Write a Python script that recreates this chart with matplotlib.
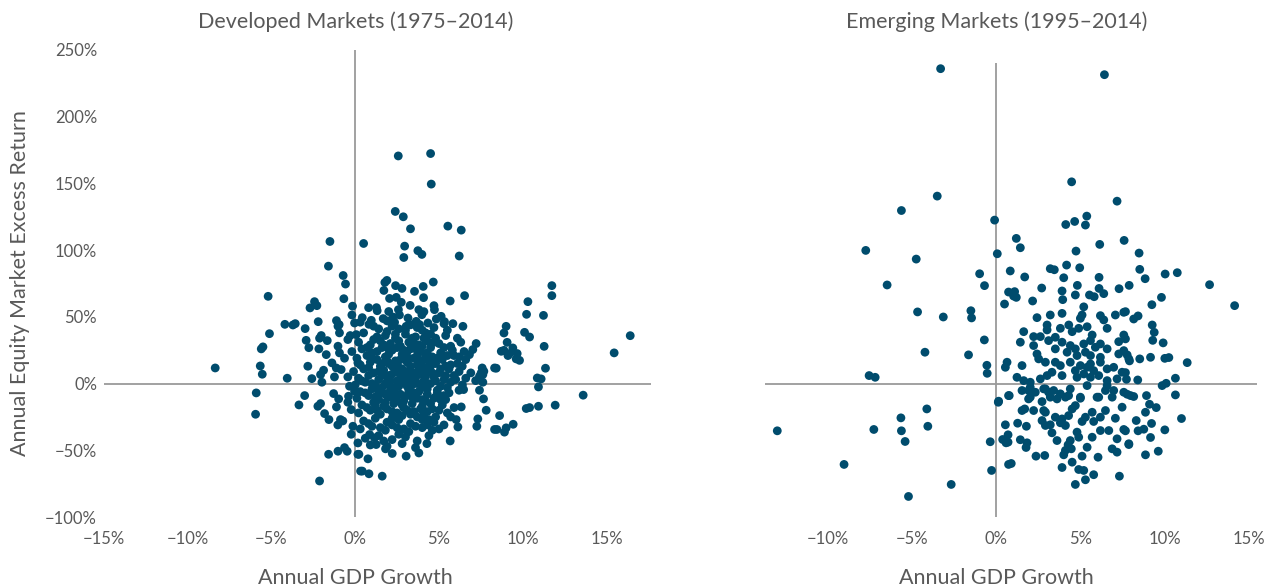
import matplotlib
matplotlib.use('Agg')
import matplotlib.pyplot as plt
import matplotlib.transforms as mtransforms
import numpy as np

plt.rcParams['font.family'] = ['Lato', 'DejaVu Sans']

# Developed Markets: (GDP growth %, excess return %)
dev_outer = [
    (2.57, 170.6), (2.39, 129), (2.87, 125), (3.3, 116), (2.95, 103), (2.9, 94.5), (-1.51, 106.5), (0.5, 105),
    (-1.6, 88), (-0.72, 81), (-0.58, 74.6), (-5.2, 65.4), (-0.68, 63.6), (-2.43, 61.4), (-2.29, 58.4), (-2.7, 56.7),
    (-0.16, 58), (1.77, 75.8), (1.89, 77.3), (1.71, 69.8), (2.41, 73.4), (2.79, 71.3), (2.05, 63.8), (2.45, 64.6),
    (2.75, 60.9), (0.8, 56.9), (1.27, 56.9), (1.31, 54.6), (2.0, 54), (2.58, 55.4), (2.64, 51.4), (-4.2, 44.4),
    (-3.72, 43.9), (-3.58, 44.9), (-2.99, 41.2), (-2.21, 46.4), (-1.12, 47.2), (-0.96, 44.2), (-0.2, 51.4),
    (0.42, 49.4), (0.96, 47.4), (0.82, 44.4), (1.67, 48.7), (2.25, 49.9), (2.35, 45.9),
    (4.5, 172.4), (4.54, 149.5), (5.53, 118), (6.33, 115), (3.74, 99.6), (3.98, 96.8), (6.21, 95.6), (4.66, 76.1),
    (4.06, 72.8), (3.54, 69.1), (4.08, 64.4), (6.53, 65.9), (5.67, 61.9), (11.74, 73.4), (11.74, 65.9),
    (10.31, 61.4), (10.23, 51.9), (11.24, 51.1), (9.01, 42.9), (3.28, 58.6), (4.7, 58.4), (4.73, 55.4),
    (3.8, 55.4), (4.1, 53.9), (3.98, 51.6), (5.13, 50.4), (4.84, 48.4), (5.33, 46.4), (5.3, 44.9), (5.83, 44.9),
    (6.43, 42.9), (3.15, 49.1), (3.64, 46.6), (4.34, 45.4), (3.84, 44.2), (3.04, 42.9),
    (-8.36, 11.7), (-5.12, 37.4), (-5.61, 26), (-5.51, 27.5), (-5.67, 13.2), (-5.55, 7), (-5.91, -7), (-5.95, -23),
    (-2.93, 32.4), (-2.77, 26.9), (-4.06, 4), (-2.83, 13), (-2.59, 3.7), (-3.02, -9), (-3.36, -16), (-2.23, -17),
    (-2.07, -15), (-1.83, -22.5), (-1.57, -27), (-2.13, 34), (-2.03, 36), (-1.67, 32.2), (-2.17, 26), (-1.73, 21.7),
    (-2.07, 6.7), (-1.89, 10), (-1.99, 1), (-1.59, -53), (-2.13, -73), (-1.03, -50.7), (-0.64, -48), (-0.48, -50.7),
    (-1.29, -7.5), (-0.99, -11.5), (-1.12, -17.5), (-0.88, -27), (-0.74, -28), (-1.04, -31), (-0.44, 5),
    (-1.24, 5), (-1.39, 15.5), (-1.13, 11.7), (-0.84, 10.5), (-1.03, 28), (-0.94, 23), (-0.44, 33), (-0.64, 19),
    (0.16, 15.5), (-1.03, 43), (-0.94, 38), (-0.04, 45.4), (0.06, 36.7), (-0.4, -9.5), (-0.44, -14), (-0.24, -19.5),
    (-0.34, -2), (-0.04, -5.7), (-0.14, -32), (-0.24, -38), (0.16, -44.5), (0.16, -53), (0.32, -65.6),
    (7.22, 30), (7.02, 25.5), (6.82, 21.7), (6.39, 13), (7.58, 11.7), (7.52, 8), (7.42, 5.5), (8.32, 11.7),
    (7.19, 2.2), (7.62, 1), (7.42, -5), (7.66, -11.5), (7.82, -20), (7.32, -26.5), (7.26, -32), (8.32, -34.4),
    (6.47, -4.5), (6.33, -17.5), (6.03, -27), (6.13, -32.5), (5.67, -43), (4.28, -45), (3.8, -52), (3.04, -54.4),
    (2.21, -52.4), (1.81, -48.9), (1.61, -69.4), (0.82, -67.6), (0.42, -65.6), (0.76, -56.4), (0.22, -53),
    (1.25, -45.7), (1.15, -40.7), (0.86, -38.2),
    (8.88, 37.9), (9.07, 30.9), (10.11, 38.4), (10.41, 34.9), (8.72, 24.2), (8.88, 24.9), (9.21, 22.5),
    (9.41, 26.7), (9.12, 21), (9.67, 22.5), (9.61, 18.5), (9.81, 17.4), (11.28, 27.9), (11.36, 11.5), (8.42, 11.5),
    (7.68, 9.2), (7.62, 6.7), (10.87, 4.2), (11.1, 3.5), (10.94, -2.5), (13.61, -8.7), (15.46, 23), (16.42, 35.9),
    (10.21, -18.7), (10.41, -18), (10.94, -17), (11.94, -16.2), (8.62, -24), (8.46, -34.4), (8.91, -36.4),
    (9.01, -33.2), (9.43, -30.5),
]

dev_core = [
    (0.3, 46), (1.1, 43), (1.9, 47), (2.6, 41), (3.3, 44), (4.0, 40), (4.7, 42), (5.5, 40),
    (-0.3, 36), (0.5, 38), (1.3, 35), (1.9, 39), (2.4, 34), (3.0, 37), (3.6, 35), (4.2, 38), (4.8, 34), (5.4, 36), (6.1, 34),
    (0.2, 31), (0.9, 29), (1.5, 32), (2.1, 30), (2.7, 28), (3.2, 31), (3.8, 29), (4.3, 32), (5.0, 30), (5.7, 28), (6.3, 31),
    (-0.2, 24), (0.4, 26), (1.0, 23), (1.6, 27), (2.2, 25), (2.8, 22), (3.3, 26), (3.9, 24), (4.5, 27), (5.1, 23), (5.8, 25), (6.5, 24),
    (0.1, 19), (0.7, 21), (1.3, 18), (1.8, 20), (2.4, 17), (2.9, 21), (3.5, 19), (4.0, 17), (4.6, 20), (5.2, 18), (5.9, 21), (6.6, 18),
    (0.3, 14), (0.9, 16), (1.5, 13), (2.0, 15), (2.6, 12), (3.1, 16), (3.7, 14), (4.2, 12), (4.8, 15), (5.4, 13), (6.1, 15),
    (-0.1, 9), (0.5, 11), (1.1, 8), (1.7, 10), (2.2, 7), (2.8, 11), (3.3, 9), (3.9, 7), (4.4, 10), (5.0, 8), (5.6, 11), (6.2, 9), (6.9, 8),
    (0.2, 4), (0.8, 6), (1.4, 3), (1.9, 5), (2.5, 2), (3.0, 6), (3.6, 4), (4.1, 2), (4.7, 5), (5.3, 3), (5.9, 6), (6.6, 4),
    (0.0, -1), (0.6, 1), (1.2, -2), (1.8, 0), (2.3, -3), (2.9, 1), (3.4, -1), (4.0, -3), (4.5, 0), (5.1, -2), (5.7, 1), (6.4, -1),
    (0.3, -6), (1.0, -4), (1.6, -7), (2.1, -5), (2.7, -8), (3.2, -4), (3.8, -6), (4.3, -8), (4.9, -5), (5.6, -7), (6.2, -5),
    (0.1, -11), (0.8, -9), (1.4, -12), (2.0, -10), (2.5, -13), (3.1, -9), (3.7, -11), (4.2, -13), (4.8, -10), (5.4, -12),
    (0.4, -16), (1.1, -14), (1.7, -17), (2.3, -15), (2.9, -18), (3.4, -15), (4.0, -17), (4.6, -19), (5.2, -16), (5.9, -18),
    (0.2, -22), (0.9, -20), (1.5, -23), (2.2, -21), (2.8, -24), (3.5, -21), (4.1, -23), (4.8, -25), (5.5, -22),
    (0.5, -28), (1.2, -26), (1.9, -29), (2.6, -27), (3.3, -30), (4.0, -27), (4.7, -29), (5.3, -31),
    (0.3, -34), (1.0, -32), (1.8, -35), (2.5, -33), (3.2, -36), (4.0, -33), (4.6, -35),
    (0.6, -41), (1.4, -39), (2.2, -42), (3.0, -40), (3.7, -43), (4.4, -39),
    (0.9, -46), (1.9, -47), (2.8, -45), (3.6, -48),
    # second, interleaved layer for the densest part
    (1.4, 41), (2.2, 43), (3.0, 40), (3.7, 42), (4.5, 37), (1.1, 33), (1.8, 36), (2.6, 32), (3.4, 34), (4.0, 28),
    (4.7, 31), (5.3, 27), (0.7, 27), (1.3, 24), (2.0, 22), (2.5, 27), (3.1, 24), (3.7, 21), (4.3, 23), (4.9, 19),
    (5.5, 21), (6.2, 20), (1.0, 19), (1.6, 15), (2.2, 13), (2.7, 18), (3.3, 13), (3.9, 16), (4.5, 13), (5.1, 11),
    (5.7, 14), (0.8, 12), (1.4, 9), (2.0, 6), (2.6, 8), (3.1, 3), (3.6, 8), (4.2, 5), (4.8, 2), (5.4, 6), (6.0, 3),
    (0.4, 2), (1.0, 0), (1.6, -3), (2.1, 2), (2.6, -2), (3.2, -6), (3.7, 0), (4.3, -4), (4.9, -7), (5.5, -3),
    (0.6, -7), (1.2, -10), (1.8, -8), (2.3, -11), (2.9, -13), (3.4, -10), (4.0, -12), (4.5, -15), (5.1, -12),
    (0.7, -18), (1.3, -20), (1.9, -19), (2.5, -22), (3.1, -20), (3.7, -25), (4.3, -21), (5.0, -20), (5.7, -25),
    (0.8, -30), (1.5, -33), (2.2, -31), (2.9, -34), (3.6, -32), (4.3, -31), (5.0, -34), (1.7, -43), (2.6, -38),
    # third layer, the solid centre
    (1.7, 29), (2.4, 37), (3.5, 30), (4.1, 34), (2.0, 26), (2.9, 25), (3.6, 26), (4.2, 20), (1.9, 17), (2.5, 15),
    (3.2, 19), (3.8, 11), (4.4, 17), (1.6, 6), (2.4, 10), (3.0, 9), (3.4, 5), (4.0, 9), (4.6, 8), (1.4, -6),
    (2.0, -1), (2.7, 4), (3.1, -2), (3.5, -7), (4.2, 0), (4.7, -11), (1.8, -14), (2.4, -7), (2.8, -16),
    (3.3, -23), (3.9, -19), (4.4, -27), (2.2, -26), (1.2, -16), (5.3, -9),
]

# Emerging Markets
emg_points = [
    (-3.31, 236), (-3.51, 140.5), (-5.64, 129.7), (-0.1, 122.5), (-7.76, 99.8), (-4.76, 93.3), (0.06, 97.3),
    (-0.99, 82.3), (-6.49, 73.9), (-0.7, 73.4), (-4.68, 53.7), (-3.15, 49.9), (-1.51, 54.6), (-1.47, 49.2),
    (-0.71, 32.7), (-4.24, 23.5), (-1.65, 21.5), (-0.56, 13.7), (-0.54, 7.7), (-7.56, 6), (-7.2, 4.7), (0.12, -14),
    (-4.13, -19), (-5.67, -25.7), (-13.02, -35.4), (-7.28, -34.4), (-5.64, -35.4), (-4.07, -32), (-5.42, -43.4),
    (-0.36, -43.6), (-9.05, -60.6), (-0.28, -65.1), (-2.68, -75.6), (-5.22, -84.6),
    (6.43, 231.5), (4.48, 151.2), (7.18, 136.7), (4.13, 119.2), (4.66, 121.5), (5.38, 125.5), (5.3, 118.8),
    (1.19, 108.8), (1.43, 101.8), (6.15, 104.3), (7.6, 107.3), (4.74, 99.3), (8.49, 97.8), (4.18, 88.8),
    (3.21, 86.1), (3.45, 85.3), (4.96, 86.8), (0.83, 84.4), (1.69, 79.9), (8.53, 85.6), (8.85, 78.6),
    (10.04, 82.1), (10.76, 83.1), (12.68, 74.1), (4.01, 79.3), (6.11, 79.6), (4.82, 73.6), (2.7, 71.6),
    (3.91, 69.4), (4.7, 66.4), (6.11, 71.3), (7.3, 71.1), (7.9, 73.6), (5.54, 66.4), (5.82, 65.1), (6.39, 67.4),
    (9.82, 64.6), (0.73, 68.6), (1.09, 68.9), (1.19, 64.6), (2.16, 61.9), (3.95, 62.9),
    (9.25, 59.1), (14.17, 58.4), (8.17, 48.4), (8.43, 50.7), (9.27, 43.9), (9.39, 38.4), (9.3, 32.4), (9.92, 30.5),
    (7.68, 53.9), (7.68, 33.5), (7.78, 21.5), (7.92, 17), (8.53, 18.5), (9.17, 19.7), (10.02, 18.9), (10.26, 19.5),
    (11.35, 15.7), (7.68, 8.2), (7.74, 3.2), (8.41, 2.7), (10.65, 4), (9.86, -1.5), (10.1, 0.2), (7.78, -8),
    (7.98, -9), (8.17, -9.7), (8.93, -9), (10.65, -8.5), (9.11, -15.5), (9.51, -18), (8.87, -21.5), (11.01, -26.2),
    (8.32, -27.7), (7.68, -35.4), (8.43, -35.4), (8.77, -34.2), (9.23, -29.9), (10.02, -34.7), (9.17, -40.4),
    (7.88, -45.7), (8.87, -53.4), (9.63, -50.7),
    (0.49, 59.6), (1.03, 65.6), (5.2, 57.5), (5.1, 51.4), (5.0, 48.9), (3.21, 51.4), (3.91, 52.6), (2.42, 49.4),
    (6.19, 50.9), (7.08, 51.4), (7.58, 53.4),
    (1.63, 38.9), (2.22, 35.2), (3.02, 43.9), (3.02, 40.2), (2.62, 35.2), (3.81, 41.4), (4.31, 43.9), (4.51, 38.9),
    (4.9, 41.4), (5.4, 42.6), (5.7, 36.4), (6.39, 47.7), (6.59, 41.4), (7.28, 31.4), (7.58, 36.4),
    (1.43, 31), (2.22, 28.5), (3.11, 32.2), (3.51, 34.7), (3.91, 31), (4.4, 28.5), (3.51, 26), (4.21, 23.5),
    (4.7, 26), (5.2, 29.7), (5.6, 32.2), (5.89, 27.2), (6.19, 29.7), (6.59, 26), (4.8, 21), (5.3, 23.5), (5.6, 21),
    (6.19, 19.7), (7.28, 22.2), (7.58, 24.7), (7.88, 18.5),
    (0.64, 16), (0.54, 12.2), (2.42, 22.2), (2.52, 18.5), (2.92, 16), (3.51, 16), (3.81, 13.5), (4.4, 16),
    (4.7, 9.7), (5.0, 13.5), (5.4, 12.2), (5.6, 14.7), (5.79, 9.7), (6.19, 16), (6.59, 11), (6.98, 12.2), (7.48, 8.5),
    (1.53, 13.5), (1.23, 4.7), (1.63, 2.2), (2.02, 1), (2.62, 3.5), (3.02, 6), (3.31, 8.5), (3.91, 6), (4.8, 4.7),
    (5.2, 7.2), (5.6, 4.7), (6.09, 6), (6.59, 2.2), (7.18, 3.5), (1.53, -5.2), (2.02, -2.8), (2.92, -4),
    (3.41, -5.2), (3.81, -7.7), (4.4, -4), (5.4, -1.5), (6.59, -1.5), (6.49, -5.2), (6.98, -5.2), (7.58, -6.5),
    (0.73, -9), (2.02, -10.2), (3.21, -10.2), (5.0, -10.2), (5.99, -10.2),
    (0.14, -13.2), (0.77, -9), (0.54, -30.9), (0.7, -38.4), (0.38, -41.9), (0.58, -44.4), (0.7, -43.9),
    (0.73, -60.6), (0.89, -59.9), (1.27, -29.7), (1.79, -32), (1.43, -42.1), (1.83, -44.4), (1.77, -47.9),
    (1.53, -20.2), (1.69, -19), (2.22, -20.2), (1.92, -11.5), (1.92, -5.2), (2.32, -6.5), (2.82, -4), (3.11, -6.5),
    (3.61, -11.5), (4.11, -10.2), (4.3, -9), (2.72, -13.5), (2.82, -20.2), (2.92, -21.5), (3.51, -25.2),
    (3.91, -26.5), (4.3, -24), (4.51, -19), (4.7, -16.5), (5.0, -11), (5.3, -25.2), (5.7, -21.5), (6.09, -10.2),
    (6.49, -20.2), (6.19, -25.2), (6.89, -10.2), (7.48, -17.7), (7.08, -26), (5.79, -28.4), (5.1, -28.4),
    (4.11, -31.4), (3.81, -29.4), (3.21, -30.9), (2.92, -31.4), (3.31, -36.9), (2.72, -27.7), (4.8, -36.4),
    (4.9, -40.2), (5.7, -40.2), (6.19, -35.2), (6.69, -35.2), (7.58, -34.4), (7.18, -41.4), (7.88, -45.1),
    (4.4, -42.7), (4.27, -45.9), (3.61, -42.7), (4.11, -50.1), (4.01, -53.4), (4.46, -48.9), (5.4, -47.7),
    (5.1, -54.4), (6.05, -55.2), (6.89, -48.9), (7.18, -51.4), (4.51, -58.9), (3.91, -62.9), (4.9, -64.4),
    (5.2, -65.1), (5.3, -72.1), (4.7, -75.6), (5.79, -68.3), (7.32, -69.4), (2.36, -54.4), (2.88, -53.9),
]

titles = ['Developed Markets (1975\u20132014)', 'Emerging Markets (1995\u20132014)']
x_ticks_dev = [-15, -10, -5, 0, 5, 10, 15]
x_ticks_emg = [-10, -5, 0, 5, 10, 15]
y_ticks = [-100, -50, 0, 50, 100, 150, 200, 250]

dot_color = '#004c6d'
line_color = '#9a9a9a'
text_color = '#595959'


def pct(v):
    return ('\u2212' if v < 0 else '') + '%d%%' % abs(v)


fig = plt.figure(figsize=(12.65, 5.87), dpi=100)
ax1 = fig.add_axes([104 / 1265, 1 - 517 / 587, 547 / 1265, 467 / 587])
ax2 = fig.add_axes([765 / 1265, 1 - 517 / 587, 492 / 1265, 467 / 587])

dev = np.array(dev_outer + dev_core)
emg = np.array(emg_points)

panels = [
    (ax1, dev, (-15, 17.66), x_ticks_dev, 250, titles[0]),
    (ax2, emg, (-13.75, 15.5), x_ticks_emg, 240, titles[1]),
]

for ax, pts, xlim, xt, vtop, title in panels:
    ax.hlines(0, xlim[0], xlim[1], color=line_color, lw=1.3, zorder=1)
    ax.vlines(0, -100, vtop, color=line_color, lw=1.3, zorder=1)
    ax.scatter(pts[:, 0], pts[:, 1], s=40, color=dot_color, edgecolors='none', zorder=2)
    ax.set_xlim(*xlim)
    ax.set_ylim(-100, 250)
    for s in ax.spines.values():
        s.set_visible(False)
    ax.set_xticks(xt)
    ax.set_xticklabels([pct(v) for v in xt])
    ax.tick_params(axis='x', length=0, pad=10, labelsize=12, labelcolor=text_color)
    ax.tick_params(axis='y', length=0, pad=5, labelsize=12, labelcolor=text_color)
    trans = mtransforms.blended_transform_factory(ax.transData, ax.transAxes)
    ax.text(0, 1.06, title, transform=trans, ha='center', va='center', fontsize=15.5, color=text_color)
    ax.text(0, -0.131, 'Annual GDP Growth', transform=trans, ha='center', va='center', fontsize=15.5,
            color=text_color)

ax1.set_yticks(y_ticks)
ax1.set_yticklabels([pct(v) for v in y_ticks])
ax2.set_yticks([])

fig.text(20 / 1265, 1 - 283 / 587, 'Annual Equity Market Excess Return', rotation=90, ha='center', va='center',
         fontsize=15.5, color=text_color)

plt.savefig('out.png', dpi=100)
